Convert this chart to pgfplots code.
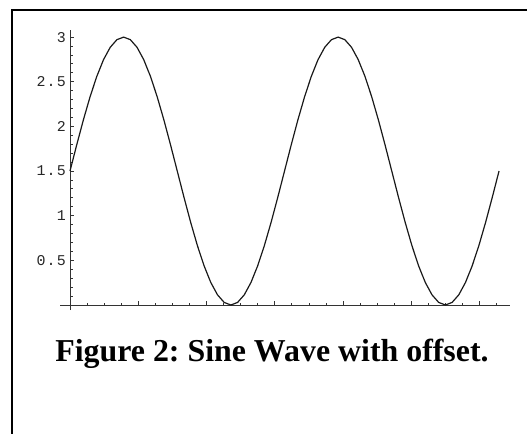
\documentclass[border=0pt]{standalone}
\usepackage{pgfplots}
\pgfplotsset{compat=1.18}
\usepackage{fontspec}
\setmainfont{Liberation Serif}
\newfontfamily\tickfont{Liberation Mono}[LetterSpace=8]

\begin{document}
\begin{tikzpicture}
\useasboundingbox (0,0) rectangle (527bp,-434bp);
% box round the figure, only top and left edge visible
\draw[line width=2bp] (12bp,-450bp) -- (12bp,-10bp) -- (560bp,-10bp);

\begin{axis}[
    at={(70bp,-305bp)}, anchor=origin,
    x=34.14bp, y=89.3bp,
    xmin=-0.29, xmax=12.9, ymin=-0.056, ymax=3.08,
    axis lines=middle,
    axis line style={-, line width=1bp, black!80},
    xtick={2,4,...,12}, xticklabels={},
    minor xtick={0.5,1,...,12.5},
    ytick={0.5,1,1.5,2,2.5,3},
    yticklabels={0.5,1,1.5,2,2.5,3},
    minor ytick={0.1,0.2,...,3.0},
    tick align=inside,
    major tick length=4bp, minor tick length=2.5bp,
    tick style={black!80, line width=0.9bp},
    yticklabel style={font=\tickfont\fontsize{15}{15}\selectfont, text=black!85,
        anchor=east, inner sep=0pt, xshift=-4bp},
    clip=false,
]
\addplot[black!90, line width=1.2bp, mark=none] coordinates {
(0,1.5) (0.19635,1.79264) (0.39270,2.07402) (0.58905,2.33336)
(0.78540,2.56066) (0.98175,2.74720) (1.17810,2.88582) (1.37445,2.97118)
(1.57080,3) (1.76715,2.97118) (1.96350,2.88582) (2.15985,2.74720)
(2.35619,2.56066) (2.55254,2.33336) (2.74889,2.07402) (2.94524,1.79264)
(3.14159,1.5) (3.33794,1.20736) (3.53429,0.92598) (3.73064,0.66664)
(3.92699,0.43934) (4.12334,0.25280) (4.31969,0.11418) (4.51604,0.02882)
(4.71239,0) (4.90874,0.02882) (5.10509,0.11418) (5.30144,0.25280)
(5.49779,0.43934) (5.69414,0.66664) (5.89049,0.92598) (6.08684,1.20736)
(6.28319,1.5) (6.47953,1.79264) (6.67588,2.07402) (6.87223,2.33336)
(7.06858,2.56066) (7.26493,2.74720) (7.46128,2.88582) (7.65763,2.97118)
(7.85398,3) (8.05033,2.97118) (8.24668,2.88582) (8.44303,2.74720)
(8.63938,2.56066) (8.83573,2.33336) (9.03208,2.07402) (9.22843,1.79264)
(9.42478,1.5) (9.62113,1.20736) (9.81748,0.92598) (10.01383,0.66664)
(10.21018,0.43934) (10.40653,0.25280) (10.60288,0.11418) (10.79923,0.02882)
(10.99557,0) (11.19192,0.02882) (11.38827,0.11418) (11.58462,0.25280)
(11.78097,0.43934) (11.97732,0.66664) (12.17367,0.92598) (12.37002,1.20736)
(12.56637,1.5)
};
\end{axis}

\node[anchor=base, inner sep=0pt, font=\bfseries\fontsize{32}{32}\selectfont]
    at (272bp,-361bp) {\frenchspacing Figure 2: Sine Wave with offset.};
\end{tikzpicture}
\end{document}
